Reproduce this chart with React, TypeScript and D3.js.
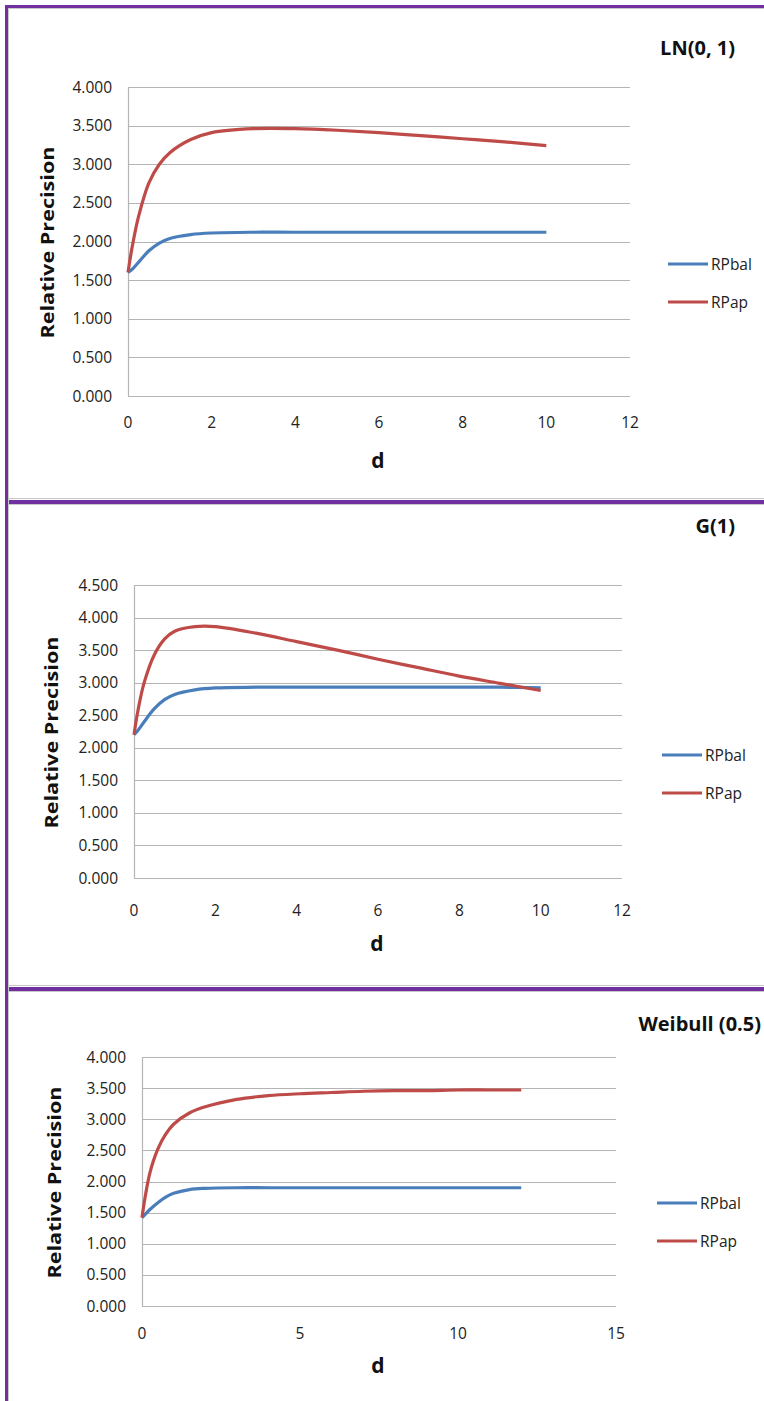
import React, { useRef, useEffect } from "react";
import * as d3 from "d3";

// LN(0, 1)
const lnD = [0, 0.1, 0.25, 0.5, 0.75, 1, 1.5, 2, 3, 4, 5, 6, 7, 8, 9, 10];
const lnRPbal = [1.6, 1.64, 1.73, 1.88, 1.98, 2.04, 2.09, 2.11, 2.12, 2.12, 2.12, 2.12, 2.12, 2.12, 2.12, 2.12];
const lnRPap = [1.6, 1.93, 2.32, 2.76, 3.0, 3.15, 3.32, 3.41, 3.46, 3.46, 3.44, 3.41, 3.37, 3.33, 3.29, 3.24];

// G(1)
const gD = [0, 0.1, 0.25, 0.5, 0.75, 1, 1.5, 2, 3, 4, 5, 6, 7, 8, 9, 10];
const gRPbal = [2.2, 2.27, 2.4, 2.6, 2.74, 2.82, 2.89, 2.92, 2.93, 2.93, 2.93, 2.93, 2.93, 2.93, 2.93, 2.92];
const gRPap = [2.2, 2.58, 3.0, 3.43, 3.67, 3.79, 3.86, 3.86, 3.76, 3.63, 3.5, 3.36, 3.23, 3.1, 2.99, 2.88];

// Weibull (0.5)
const wD = [0, 0.1, 0.25, 0.5, 0.75, 1, 1.5, 2, 3, 4, 5, 6, 7, 8, 9, 10, 11, 12];
const wRPbal = [1.42, 1.47, 1.55, 1.66, 1.75, 1.81, 1.87, 1.89, 1.9, 1.9, 1.9, 1.9, 1.9, 1.9, 1.9, 1.9, 1.9, 1.9];
const wRPap = [1.42, 1.75, 2.14, 2.52, 2.76, 2.92, 3.1, 3.2, 3.32, 3.38, 3.41, 3.43, 3.45, 3.46, 3.46, 3.47, 3.47, 3.47];

const seriesNames = ["RPbal", "RPap"];
const seriesColors = ["#4a7ebb", "#be4b48"];

const panels = [
  {
    title: "LN(0, 1)", d: lnD, bal: lnRPbal, ap: lnRPap,
    xMax: 12, xStep: 2, yMax: 4,
    left: 128, right: 630, top: 87, bottom: 396,
    titleX: 735, titleY: 55, xLabY: 428, dY: 468, yTitleX: 54, legX: 668, legY: 264,
  },
  {
    title: "G(1)", d: gD, bal: gRPbal, ap: gRPap,
    xMax: 12, xStep: 2, yMax: 4.5,
    left: 134, right: 622, top: 585, bottom: 878,
    titleX: 735, titleY: 533, xLabY: 916, dY: 951, yTitleX: 58, legX: 662, legY: 755,
  },
  {
    title: "Weibull (0.5)", d: wD, bal: wRPbal, ap: wRPap,
    xMax: 15, xStep: 5, yMax: 4,
    left: 142, right: 616, top: 1057, bottom: 1306,
    titleX: 761, titleY: 1031, xLabY: 1339, dY: 1373, yTitleX: 61, legX: 657, legY: 1203,
  },
];

const font = "'Open Sans', sans-serif";

const App = () => {
  const ref = useRef(null);

  useEffect(() => {
    const svg = d3.select(ref.current);
    svg.selectAll("*").remove();

    svg.append("rect").attr("width", 764).attr("height", 1401).attr("fill", "#fff");

    // purple frame
    const purple = "#7030a0";
    svg.append("rect").attr("x", 5).attr("y", 5).attr("width", 759).attr("height", 3).attr("fill", purple);
    svg.append("rect").attr("x", 5).attr("y", 5).attr("width", 3).attr("height", 1396).attr("fill", purple);
    [500, 987].forEach((y) => {
      svg.append("rect").attr("x", 5).attr("y", y).attr("width", 759).attr("height", 4).attr("fill", purple);
      svg.append("line").attr("x1", 9).attr("x2", 764).attr("y1", y - 1.5).attr("y2", y - 1.5)
        .attr("stroke", "#c8c8c8").attr("stroke-width", 1);
      svg.append("line").attr("x1", 9).attr("x2", 764).attr("y1", y + 4.5).attr("y2", y + 4.5)
        .attr("stroke", "#c8c8c8").attr("stroke-width", 1);
    });
    svg.append("line").attr("x1", 8.5).attr("x2", 8.5).attr("y1", 8).attr("y2", 1401)
      .attr("stroke", "#c8c8c8");
    svg.append("line").attr("x1", 9).attr("x2", 764).attr("y1", 8.5).attr("y2", 8.5)
      .attr("stroke", "#c8c8c8");

    panels.forEach((p) => {
      const g = svg.append("g");
      const x = d3.scaleLinear().domain([0, p.xMax]).range([p.left, p.right]);
      const y = d3.scaleLinear().domain([0, p.yMax]).range([p.bottom, p.top]);

      const yTicks = d3.range(0, p.yMax + 0.001, 0.5);
      const xTicks = d3.range(0, p.xMax + 0.001, p.xStep);

      // gridlines
      g.selectAll(".grid")
        .data(yTicks)
        .enter()
        .append("line")
        .attr("x1", p.left)
        .attr("x2", p.right)
        .attr("y1", (d) => Math.round(y(d)) + 0.5)
        .attr("y2", (d) => Math.round(y(d)) + 0.5)
        .attr("stroke", "#b4b4b4")
        .attr("stroke-width", 1.2);

      g.append("line")
        .attr("x1", p.left + 0.5).attr("x2", p.left + 0.5)
        .attr("y1", p.top).attr("y2", p.bottom)
        .attr("stroke", "#b4b4b4").attr("stroke-width", 1.2);

      // y tick labels
      g.selectAll(".ylab")
        .data(yTicks)
        .enter()
        .append("text")
        .attr("x", p.left - 16)
        .attr("y", (d) => y(d))
        .attr("dy", "0.36em")
        .attr("text-anchor", "end")
        .style("font-family", font)
        .style("font-size", "15.5px")
        .style("fill", "#222")
        .text((d) => d3.format(".3f")(d));

      // x tick labels
      g.selectAll(".xlab")
        .data(xTicks)
        .enter()
        .append("text")
        .attr("x", (d) => x(d))
        .attr("y", p.xLabY)
        .attr("text-anchor", "middle")
        .style("font-family", font)
        .style("font-size", "15.5px")
        .style("fill", "#222")
        .text((d) => d);

      // lines
      const line = d3
        .line()
        .x((d) => x(d[0]))
        .y((d) => y(d[1]))
        .curve(d3.curveCatmullRom.alpha(0.5));

      [p.bal, p.ap].forEach((vals, i) => {
        g.append("path")
          .datum(p.d.map((dv, j) => [dv, vals[j]]))
          .attr("d", line)
          .attr("fill", "none")
          .attr("stroke", seriesColors[i])
          .attr("stroke-width", 3.2)
          .attr("stroke-linejoin", "round");
      });

      // titles
      g.append("text")
        .attr("x", p.titleX).attr("y", p.titleY)
        .attr("text-anchor", "end")
        .style("font-family", font).style("font-weight", "bold").style("font-size", "20px")
        .style("fill", "#111")
        .text(p.title);

      g.append("text")
        .attr("x", (p.left + p.right) / 2 - 1).attr("y", p.dY)
        .attr("text-anchor", "middle")
        .style("font-family", font).style("font-weight", "bold").style("font-size", "21px")
        .style("fill", "#111")
        .text("d");

      g.append("text")
        .attr("transform", `translate(${p.yTitleX},${(p.top + p.bottom) / 2 + 1}) rotate(-90)`)
        .attr("text-anchor", "middle")
        .attr("textLength", 192)
        .attr("lengthAdjust", "spacingAndGlyphs")
        .style("font-family", font).style("font-weight", "bold").style("font-size", "18px")
        .style("fill", "#111")
        .text("Relative Precision");

      // legend
      seriesNames.forEach((name, i) => {
        const ly = p.legY + i * 38;
        g.append("line")
          .attr("x1", p.legX).attr("x2", p.legX + 40)
          .attr("y1", ly).attr("y2", ly)
          .attr("stroke", seriesColors[i]).attr("stroke-width", 3.2);
        g.append("text")
          .attr("x", p.legX + 43).attr("y", ly)
          .attr("dy", "0.36em")
          .style("font-family", font).style("font-size", "15.5px")
          .style("fill", "#222")
          .text(name);
      });
    });
  }, []);

  return (
    <svg
      ref={ref}
      width={764}
      height={1401}
      style={{ position: "absolute", left: 0, top: 0 }}
    />
  );
};

export default App;
